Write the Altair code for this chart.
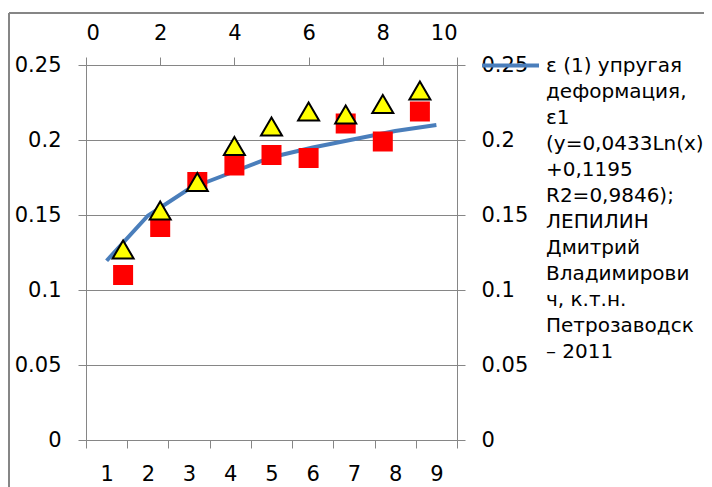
import altair as alt
import pandas as pd

# ---- data ----
categories = [1, 2, 3, 4, 5, 6, 7, 8, 9]
trend_values = [0.1195, 0.1495, 0.1675, 0.178, 0.1885, 0.195, 0.2005, 0.206, 0.21]
x_points = [1, 2, 3, 4, 5, 6, 7, 8, 9]
square_values = [0.110, 0.142, 0.172, 0.183, 0.190, 0.188, 0.211, 0.199, 0.219]
triangle_values = [0.127, 0.153, 0.172, 0.196, 0.209, 0.219, 0.217, 0.224, 0.233]
y_ticks = [0, 0.05, 0.1, 0.15, 0.2, 0.25]
top_ticks = [0, 2, 4, 6, 8, 10]
legend_lines = [
    "ε (1) упругая",
    "деформация,",
    "ε1",
    "(y=0,0433Ln(x)",
    "+0,1195",
    "R2=0,9846);",
    "ЛЕПИЛИН",
    "Дмитрий",
    "Владимирови",
    "ч, к.т.н.",
    "Петрозаводск",
    "– 2011",
]

BLUE = "#4A7EBB"
GRAY = "#868686"
FONT = "DejaVu Sans"
FS = 21
LFS = 20
TRI = "M0,-0.85L1,0.85L-1,0.85Z"

series_name = "|".join(legend_lines)

df_line = pd.DataFrame({"cat": categories, "val": trend_values, "series": [series_name] * len(categories)})
df_pts = pd.DataFrame({
    "x": x_points + x_points,
    "val": square_values + triangle_values,
    "kind": ["sq"] * len(x_points) + ["tri"] * len(x_points),
})

common_axis = dict(domainColor=GRAY, tickColor=GRAY, gridColor=GRAY, labelColor="black",
                   labelFont=FONT, labelFontSize=FS, title=None, tickSize=8)

line = alt.Chart(df_line).mark_line(strokeWidth=4).encode(
    x=alt.X("cat:O", sort=None,
            scale=alt.Scale(type="band", paddingInner=0, paddingOuter=0),
            axis=alt.Axis(orient="bottom", tickBand="extent", labelAngle=0, grid=False,
                          labelPadding=15, **common_axis)),
    y=alt.Y("val:Q", scale=alt.Scale(domain=[0, 0.25], nice=False, zero=True),
            axis=alt.Axis(orient="left", values=y_ticks, format="~g", grid=True,
                          labelPadding=17, **common_axis)),
    color=alt.Color("series:N", scale=alt.Scale(range=[BLUE]),
                    legend=alt.Legend(orient="none", legendX=394, legendY=-30, title=None,
                                      symbolType="stroke", symbolStrokeWidth=4, symbolSize=3249,
                                      labelFont=FONT, labelFontSize=LFS, labelColor="black",
                                      labelExpr="split(datum.label, '|')", labelLimit=400,
                                      labelOffset=5, labelBaseline="middle", padding=0)),
)

points = alt.Chart(df_pts).mark_point(filled=True, opacity=1).encode(
    x=alt.X("x:Q", scale=alt.Scale(domain=[0, 10], nice=False),
            axis=alt.Axis(orient="top", values=top_ticks, grid=False, labelPadding=14,
                          **common_axis)),
    y=alt.Y("val:Q", scale=alt.Scale(domain=[0, 0.25], nice=False, zero=True),
            axis=alt.Axis(orient="right", values=y_ticks, format="~g", grid=False,
                          labelPadding=16, **common_axis)),
    shape=alt.Shape("kind:N", scale=alt.Scale(domain=["sq", "tri"], range=["square", TRI]), legend=None),
    fill=alt.Fill("kind:N", scale=alt.Scale(domain=["sq", "tri"], range=["#FF0000", "#FFFF00"]), legend=None),
    stroke=alt.Stroke("kind:N", scale=alt.Scale(domain=["sq", "tri"], range=["#FF0000", "#000000"]), legend=None),
    strokeWidth=alt.StrokeWidth("kind:N", scale=alt.Scale(domain=["sq", "tri"], range=[0, 2]), legend=None),
    size=alt.Size("kind:N", scale=alt.Scale(domain=["sq", "tri"], range=[400, 441]), legend=None),
)

frame_df = pd.DataFrame({"a": [0]})
frame_top = alt.Chart(frame_df).mark_rule(color=GRAY, strokeWidth=2).encode(
    x=alt.value(-77), x2=alt.value(700), y=alt.value(-52))
frame_left = alt.Chart(frame_df).mark_rule(color=GRAY, strokeWidth=2).encode(
    x=alt.value(-77), y=alt.value(-52), y2=alt.value(500))

chart = alt.layer(frame_top, frame_left, line, points).resolve_scale(
    x="independent", y="independent"
).properties(
    width=371, height=375,
    autosize=alt.AutoSizeParams(type="none"),
    padding={"left": 78, "top": 57, "right": 247, "bottom": 47},
).configure(
    background="white",
    style={"guide-label": {"lineHeight": 26}},
).configure_view(stroke=None)

chart.save("out.html", embed_options={"renderer": "svg", "actions": False})
